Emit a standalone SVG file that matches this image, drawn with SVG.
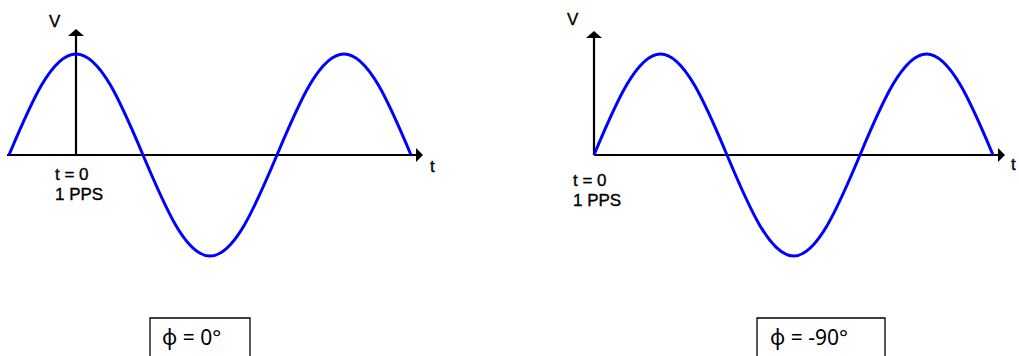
<svg xmlns="http://www.w3.org/2000/svg" width="1019" height="356" viewBox="0 0 1019 356">
<style>
.axis{stroke:#000;stroke-width:2.2;fill:none}
.wave{stroke:#0000ff;stroke-width:3;fill:none}
.lbl{font-family:"Liberation Sans",Arial,sans-serif;font-size:17px;fill:#000;stroke:#000;stroke-width:0.35}
.box{fill:#fff;stroke:#000;stroke-width:1.3}
.phi{font-family:"Noto Sans","Open Sans",sans-serif;font-size:21px;fill:#000}
</style>
<rect width="1019" height="356" fill="#fff"/>
<g id="connectors">
<line class="axis" x1="76" y1="155" x2="76" y2="34"/>
<polygon points="68,36 84,36 76,29" fill="#000"/>
<line class="axis" x1="7" y1="155" x2="417" y2="155"/>
<polygon points="416,148 416,162 423,155" fill="#000"/>
<line class="axis" x1="594" y1="155" x2="594" y2="36"/>
<polygon points="586,38 602,38 594,31" fill="#000"/>
<line class="axis" x1="594" y1="155" x2="999" y2="155"/>
<polygon points="998,148 998,162 1005,155" fill="#000"/>
</g>
<g id="wave-left">
<path class="wave" d="M9,155 C30.85,103.26 51.75,54 76,54 C100.25,54 121.15,103.26 143,155 C164.85,206.74 185.75,256 210,256 C234.25,256 255.15,206.74 277,155 C298.85,103.26 319.75,54 344,54 C368.25,54 389.15,103.26 411,155"/>
</g>
<g id="wave-right">
<path class="wave" d="M594,155 C615.69,103.26 636.93,54 660.5,54 C684.07,54 705.31,103.26 727,155 C748.69,206.74 769.93,256 793.5,256 C817.07,256 838.31,206.74 860,155 C881.69,103.26 902.93,54 926.5,54 C950.07,54 971.31,103.26 993,155"/>
</g>
<g id="labels-left">
<text class="lbl" x="49" y="27">V</text>
<text class="lbl" x="430" y="172">t</text>
<text class="lbl" x="55" y="180">t = 0</text>
<text class="lbl" x="55" y="200">1 PPS</text>
</g>
<g id="labels-right">
<text class="lbl" x="567" y="25">V</text>
<text class="lbl" x="1011" y="170">t</text>
<text class="lbl" x="573" y="186">t = 0</text>
<text class="lbl" x="573" y="206">1 PPS</text>
</g>
<g id="box-left">
<path class="box" d="M150,357 V318 H250 V357"/>
<text class="phi" x="162" y="345">ϕ = 0°</text>
</g>
<g id="box-right">
<path class="box" d="M757,357 V318 H885 V357"/>
<text class="phi" x="770" y="345">ϕ = -90°</text>
</g>
</svg>
